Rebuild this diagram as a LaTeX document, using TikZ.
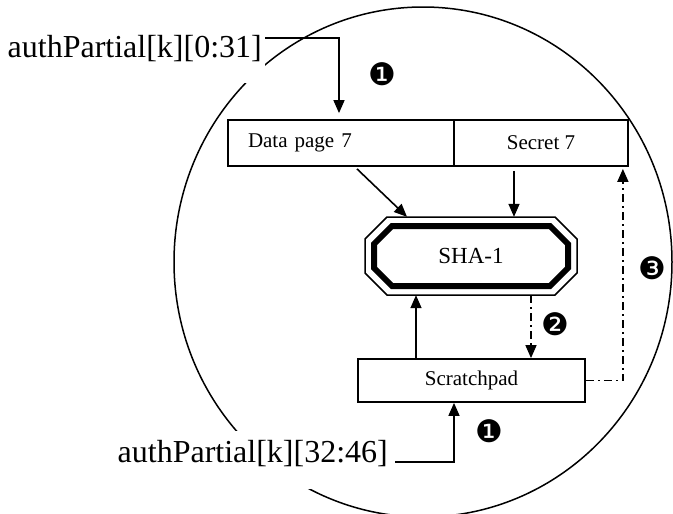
\documentclass[tikz,border=0pt]{standalone}
\usepackage{fontspec}
\setmainfont{Liberation Serif}
\newfontfamily\dingfont{DejaVu Sans}
\usetikzlibrary{arrows.meta,calc}

\tikzset{
  arr/.style={line width=1.6pt, -{Triangle[length=13pt,width=11pt]}},
  dd/.style={arr, dash pattern=on 8pt off 4pt on 2pt off 4pt},
  box/.style={draw, line width=1.8pt, inner sep=0pt, font=\fontsize{21}{25}\selectfont},
  biglabel/.style={fill=white, inner xsep=3pt, inner ysep=0pt, font=\fontsize{32}{38}\selectfont},
  stepnum/.style={font=\dingfont\fontsize{31}{36}\selectfont, inner sep=0pt}
}

\begin{document}
\begin{tikzpicture}[x=1pt, y=-1pt]
  \useasboundingbox (0,0) rectangle (673,514);

  % enclosing ellipse
  \draw[line width=1.5pt] (423,262) ellipse [x radius=249pt, y radius=255pt];

  % input labels (white backing cuts the ellipse)
  \node[biglabel, anchor=base east, text height=30pt, text depth=26pt] (lab1) at (265,57) {authPartial[k][0:31]};
  \node[biglabel, anchor=base east, text height=31pt, text depth=27pt] (lab2) at (391,462) {authPartial[k][32:46]};

  % memory row
  \node[box, minimum width=226pt, minimum height=46pt, text width=186pt, align=left, inner xsep=20pt] (dp) at (341,143) {Data page 7};
  \node[box, minimum width=174pt, minimum height=46pt] (sec) at (541,143) {Secret 7};

  % SHA-1 engine
  \node[inner sep=0pt, minimum width=212pt, minimum height=78pt, font=\fontsize{23}{27}\selectfont] (sha) at (471,256) {SHA-1};
  \begin{scope}[shift={(sha.center)}]
    \draw[line width=1.5pt, line join=miter]
      (-106,-17) -- (-84,-39) -- (84,-39) -- (106,-17) -- (106,17) -- (84,39) -- (-84,39) -- (-106,17) -- cycle;
    \draw[line width=6pt, line join=miter]
      (-97,-12) -- (-79,-30) -- (79,-30) -- (97,-12) -- (97,12) -- (79,30) -- (-79,30) -- (-97,12) -- cycle;
  \end{scope}

  % scratchpad
  \node[box, minimum width=227pt, minimum height=43pt] (sp) at (471.5,380.5) {Scratchpad};

  % step markers
  \node[stepnum] (n1) at (382,74) {❶};
  \node[stepnum] (n2) at (555,324) {❷};
  \node[stepnum] (n3) at (652,268) {❸};
  \node[stepnum] (n1b) at (489,431) {❶};

  % data flow
  \draw[arr, shorten >=6pt] ([yshift=19pt]lab1.base east) -| ([xshift=-2pt]dp.north);
  \draw[arr] ([xshift=4pt]lab2.base east) -| ([xshift=-17.5pt]sp.south);
  \draw[arr] ([xshift=16pt,yshift=-2pt]dp.south) -- ([xshift=-64pt]sha.north);
  \draw[arr] ([xshift=-27pt,yshift=-4pt]sec.south) -- ([xshift=-27pt]sec.south |- sha.north);
  \draw[arr] ([xshift=-55pt]sha.south |- sp.north) -- ([xshift=-55pt]sha.south);
  \draw[dd] ([xshift=60pt]sha.south) -- ([xshift=60pt]sha.south |- sp.north);
  \draw[dd] (sp.east) -| ([xshift=-6pt,yshift=-2pt]sec.south east);
\end{tikzpicture}
\end{document}
